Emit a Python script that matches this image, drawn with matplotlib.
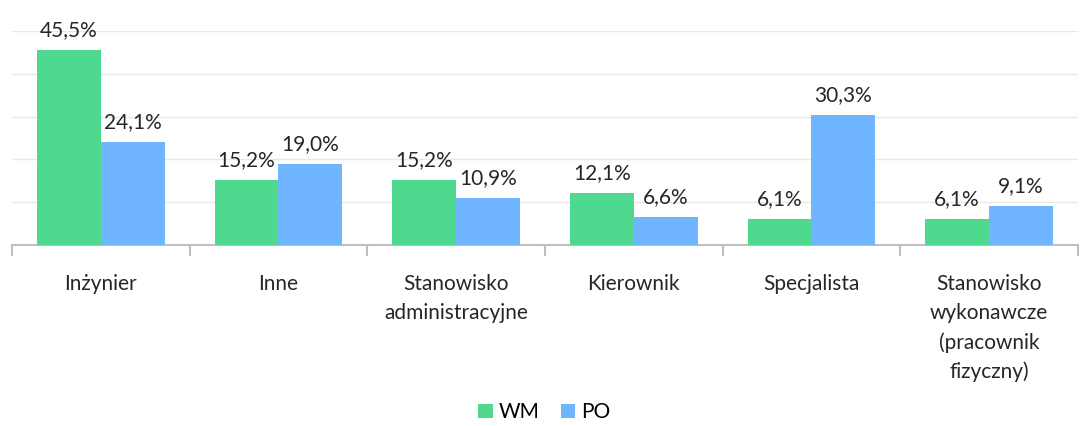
import numpy as np
import matplotlib.pyplot as plt

plt.rcParams['font.family'] = ['Lato', 'DejaVu Sans']

categories = ["Inżynier", "Inne", "Stanowisko\nadministracyjne", "Kierownik",
              "Specjalista", "Stanowisko\nwykonawcze\n(pracownik\nfizyczny)"]
wm = [45.5, 15.2, 15.2, 12.1, 6.1, 6.1]
po = [24.1, 19.0, 10.9, 6.6, 30.3, 9.1]

green = "#4fd98f"
blue = "#6fb5ff"

fig = plt.figure(figsize=(10.89, 4.26), dpi=100)
ax = fig.add_axes([12 / 1089, 1 - 245 / 426, 1066 / 1089, 214 / 426])

x = np.arange(len(categories))
w = 0.36
b1 = ax.bar(x - w / 2, wm, w, color=green, label="WM", zorder=3)
b2 = ax.bar(x + w / 2, po, w, color=blue, label="PO", zorder=3)

for bars, vals in ((b1, wm), (b2, po)):
    for r, v in zip(bars, vals):
        ax.text(r.get_x() + r.get_width() / 2, v + 2.3, f"{v:.1f}%".replace(".", ","),
                ha="center", va="bottom", fontsize=15, color="#262626")

ax.set_xlim(-0.5, len(categories) - 0.5)
ax.set_ylim(0, 50)
ax.set_yticks([10, 20, 30, 40, 50])
ax.yaxis.grid(True, color="#e8e8e8", linewidth=1, zorder=0)
ax.tick_params(axis="y", left=False, labelleft=False)
for s in ("top", "right", "left"):
    ax.spines[s].set_visible(False)
ax.spines["bottom"].set_color("#bfbfbf")
ax.spines["bottom"].set_linewidth(1.5)

ax.set_xticks(np.arange(len(categories) + 1) - 0.5, minor=False)
ax.set_xticklabels([])
ax.tick_params(axis="x", which="major", length=8, color="#bfbfbf", width=1.5)
ax.set_xticks(x, minor=True)
ax.set_xticklabels(categories, minor=True, fontsize=15, color="#262626", linespacing=1.55)
ax.tick_params(axis="x", which="minor", length=0, pad=21)

fig.legend(loc="lower center", bbox_to_anchor=(0.5, -0.035), ncol=2, frameon=False,
           fontsize=15, handlelength=0.7, handleheight=0.7, handletextpad=0.3,
           columnspacing=1.0)

fig.savefig("out.png", dpi=100)
